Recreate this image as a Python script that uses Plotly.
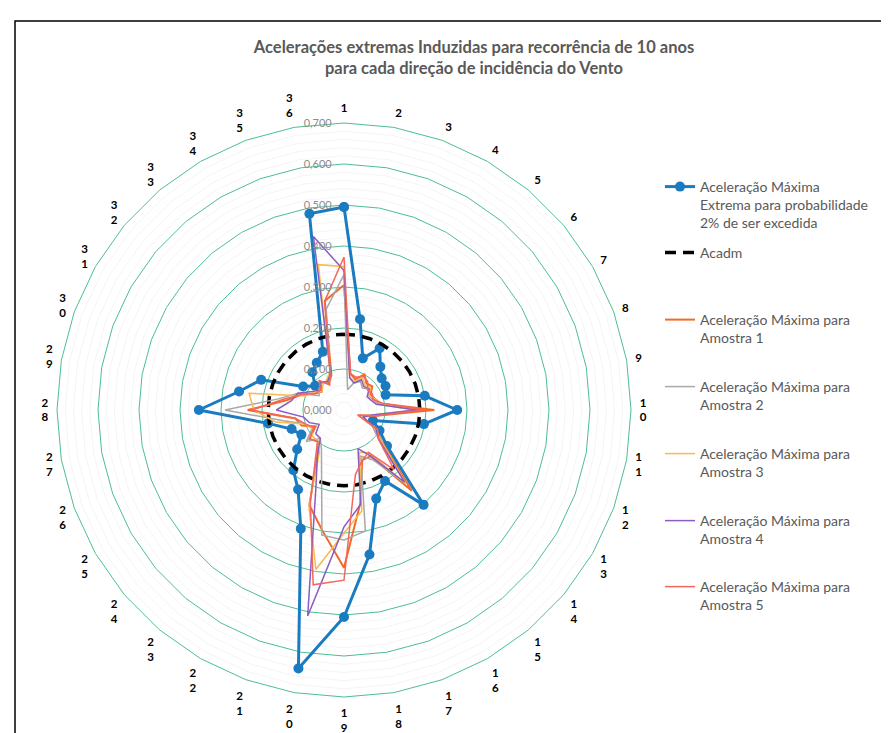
import plotly.graph_objects as go

# ---------------- data ----------------
directions = [str(i) for i in range(1, 37)]
dir_labels = ["1"] + [d if len(d) == 1 else d[0] + "<br>" + d[1] for d in directions[1:]]

acel_max = [0.495, 0.225, 0.134, 0.174, 0.138, 0.120, 0.117, 0.108, 0.200, 0.276,
            0.198, 0.075, 0.100, 0.137, 0.302, 0.200, 0.230, 0.358, 0.505, 0.640,
            0.308, 0.224, 0.192, 0.149, 0.120, 0.136, 0.188, 0.354, 0.260, 0.215,
            0.115, 0.092, 0.120, 0.133, 0.151, 0.486]
acadm = [0.185] * 36

amostra1 = [0.305, 0.090, 0.080, 0.100, 0.085, 0.090, 0.075, 0.080, 0.090, 0.220,
            0.080, 0.040, 0.090, 0.120, 0.257, 0.130, 0.130, 0.230, 0.385, 0.300,
            0.247, 0.130, 0.100, 0.110, 0.080, 0.110, 0.120, 0.235, 0.140, 0.110,
            0.080, 0.070, 0.090, 0.075, 0.090, 0.270]
amostra2 = [0.330, 0.050, 0.070, 0.080, 0.070, 0.080, 0.070, 0.075, 0.085, 0.170,
            0.070, 0.045, 0.080, 0.110, 0.235, 0.140, 0.120, 0.300, 0.317, 0.310,
            0.160, 0.110, 0.090, 0.120, 0.090, 0.100, 0.150, 0.290, 0.160, 0.120,
            0.070, 0.080, 0.085, 0.080, 0.100, 0.250]
amostra3 = [0.350, 0.080, 0.075, 0.090, 0.080, 0.085, 0.070, 0.080, 0.090, 0.180,
            0.075, 0.040, 0.085, 0.120, 0.235, 0.120, 0.110, 0.250, 0.300, 0.395,
            0.250, 0.120, 0.100, 0.100, 0.090, 0.100, 0.170, 0.220, 0.235, 0.100,
            0.085, 0.070, 0.080, 0.085, 0.100, 0.360]
amostra4 = [0.340, 0.080, 0.070, 0.085, 0.075, 0.080, 0.065, 0.070, 0.080, 0.180,
            0.070, 0.050, 0.090, 0.110, 0.230, 0.130, 0.100, 0.234, 0.285, 0.510,
            0.200, 0.130, 0.090, 0.090, 0.070, 0.090, 0.100, 0.165, 0.130, 0.120,
            0.090, 0.075, 0.090, 0.080, 0.095, 0.430]
amostra5 = [0.373, 0.090, 0.085, 0.095, 0.090, 0.075, 0.080, 0.075, 0.095, 0.195,
            0.080, 0.035, 0.095, 0.110, 0.190, 0.120, 0.130, 0.160, 0.415, 0.433,
            0.240, 0.140, 0.100, 0.110, 0.085, 0.100, 0.120, 0.225, 0.150, 0.110,
            0.080, 0.075, 0.095, 0.070, 0.100, 0.270]

radial_ticks = [0.0, 0.1, 0.2, 0.3, 0.4, 0.5, 0.6, 0.7]
minor_levels = [round(i * 0.02, 2) for i in range(1, 35) if i % 5 != 0]

title_text = ("Acelerações extremas Induzidas para recorrência de 10 anos<br>"
              "para cada direção de incidência do Vento")

series = [
    ("Aceleração Máxima<br>Extrema para probabilidade<br>2% de ser excedida", acel_max),
    ("Acadm", acadm),
    ("Aceleração Máxima para<br>Amostra 1", amostra1),
    ("Aceleração Máxima para<br>Amostra 2", amostra2),
    ("Aceleração Máxima para<br>Amostra 3", amostra3),
    ("Aceleração Máxima para<br>Amostra 4", amostra4),
    ("Aceleração Máxima para<br>Amostra 5", amostra5),
]

# ---------------- styles ----------------
W, H = 889, 733
CX, CY, R = 336, 402, 287
FONT = "Lato"
GREEN = "#4DBE92"
styles = [
    dict(mode="lines+markers", line=dict(color="#1B7BC1", width=3),
         marker=dict(size=10, color="#1B7BC1")),
    dict(mode="lines", line=dict(color="black", width=3.5, dash="11px,7px")),
    dict(mode="lines", line=dict(color="#F26A25", width=2)),
    dict(mode="lines", line=dict(color="#A8A8A8", width=1.5)),
    dict(mode="lines", line=dict(color="#F9B94C", width=1.5)),
    dict(mode="lines", line=dict(color="#8A5CC0", width=1.5)),
    dict(mode="lines", line=dict(color="#F2675E", width=1.5)),
]
legend_tops = [163, 229, 296, 363, 430, 497, 563]

fig = go.Figure()

theta_closed = dir_labels + [dir_labels[0]]

# faint minor rings
for lv in minor_levels:
    fig.add_trace(go.Scatterpolar(r=[lv] * 37, theta=theta_closed, mode="lines",
                                  line=dict(color="#F4F4F4", width=1),
                                  showlegend=False, hoverinfo="skip"))

for i, ((name, vals), st) in enumerate(zip(series, styles)):
    lg = "legend" if i == 0 else f"legend{i + 1}"
    fig.add_trace(go.Scatterpolar(r=vals + [vals[0]], theta=theta_closed, name=name,
                                  legend=lg, **st))

layout_legends = {}
for i, top in enumerate(legend_tops):
    key = "legend" if i == 0 else f"legend{i + 1}"
    layout_legends[key] = dict(x=652 / W, xanchor="left", y=1 - top / H, yanchor="top",
                               valign="top", bgcolor="rgba(0,0,0,0)",
                               font=dict(family=FONT, size=14, color="#595959"))

fig.update_layout(
    width=W, height=H,
    margin=dict(l=0, r=0, t=0, b=0),
    paper_bgcolor="white",
    separators=",.",
    title=dict(text=title_text, x=466 / W, xanchor="center", y=1 - 45 / H, yanchor="top",
               font=dict(family=FONT, size=16.5, color="#595959", weight="bold")),
    polar=dict(
        domain=dict(x=[(CX - R) / W, (CX + R) / W], y=[(H - CY - R) / H, (H - CY + R) / H]),
        bgcolor="white",
        gridshape="linear",
        radialaxis=dict(range=[0, 0.7], tickvals=radial_ticks, tickformat=".3f",
                        angle=90, side="counterclockwise", tickangle=90,
                        showline=False, ticks="outside", ticklen=8,
                        tickcolor="rgba(0,0,0,0)", gridcolor=GREEN, gridwidth=1,
                        tickfont=dict(family=FONT, size=11, color="#8C8C8C")),
        angularaxis=dict(rotation=90, direction="clockwise", type="category",
                         categoryarray=dir_labels, showgrid=False,
                         showline=True, linecolor=GREEN, linewidth=1,
                         ticks="outside", ticklen=6, tickcolor="rgba(0,0,0,0)",
                         tickfont=dict(family=FONT, size=11.5, color="black", weight="bold")),
    ),
    shapes=[dict(type="rect", xref="paper", yref="paper",
                 x0=7 / W, x1=884 / W, y0=-0.05, y1=1 - 13 / H,
                 line=dict(color="black", width=1.5))],
    **layout_legends,
)

fig.write_html("out.html")
